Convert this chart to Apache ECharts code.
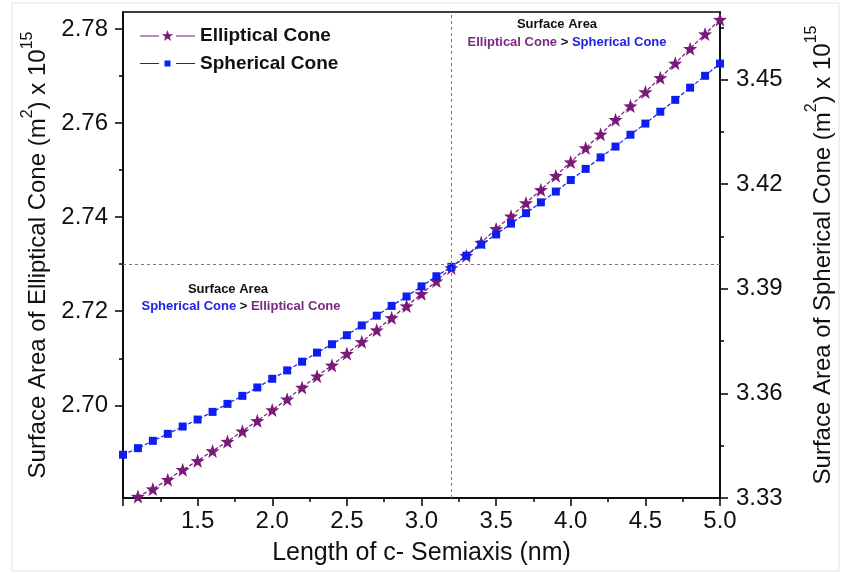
<!DOCTYPE html>
<html>
<head>
<meta charset="utf-8">
<script src="https://cdn.jsdelivr.net/npm/echarts@6/dist/echarts.min.js"></script>
<style>
html,body{margin:0;padding:0;background:#fff;}
#chart{width:843px;height:573px;}
</style>
</head>
<body>
<div id="chart"></div>
<script>
// ---- data ----
const xValues = [1.0,1.1,1.2,1.3,1.4,1.5,1.6,1.7,1.8,1.9,2.0,2.1,2.2,2.3,2.4,2.5,2.6,2.7,2.8,2.9,3.0,3.1,3.2,3.3,3.4,3.5,3.6,3.7,3.8,3.9,4.0,4.1,4.2,4.3,4.4,4.5,4.6,4.7,4.8,4.9,5.0];
const ellipticalCone = [2.6784,2.6806,2.6822,2.6842,2.6863,2.6882,2.6903,2.6923,2.6945,2.6967,2.6990,2.7013,2.7038,2.7062,2.7085,2.7110,2.7135,2.7160,2.7186,2.7211,2.7237,2.7264,2.7292,2.7318,2.7346,2.7375,2.7402,2.7430,2.7458,2.7488,2.7517,2.7547,2.7576,2.7607,2.7636,2.7666,2.7696,2.7727,2.7758,2.7789,2.7820];
const sphericalCone = [3.3424,3.3443,3.3464,3.3484,3.3505,3.3525,3.3547,3.3570,3.3593,3.3617,3.3642,3.3666,3.3691,3.3717,3.3741,3.3767,3.3795,3.3823,3.3851,3.3878,3.3907,3.3936,3.3963,3.3995,3.4027,3.4056,3.4087,3.4117,3.4148,3.4179,3.4212,3.4244,3.4277,3.4308,3.4342,3.4374,3.4408,3.4442,3.4477,3.4511,3.4546];
const leftTicks = [2.70,2.72,2.74,2.76,2.78];
const leftMinorTicks = [2.69,2.71,2.73,2.75,2.77];
const rightTicks = [3.33,3.36,3.39,3.42,3.45];
const rightMinorTicks = [3.345,3.375,3.405,3.435,3.465];
const crossX = 3.2;
const crossYLeft = 2.7295;

// ---- styles ----
const FONT = 'Liberation Sans, Arial, sans-serif';
const PURPLE = '#7a1a78';
const BLUE = '#0f1ef0';
const starPath = 'path://M27.5,0.5L28.911,4.558L33.206,4.646L29.783,7.242L31.027,11.354L27.5,8.9L23.973,11.354L25.217,7.242L21.794,4.646L26.089,4.558Z';
const ellIcon = 'path://M0,6L19,6L19,7L0,7ZM36,6L55,6L55,7L36,7ZM27.5,0.5L28.911,4.558L33.206,4.646L29.783,7.242L31.027,11.354L27.5,8.9L23.973,11.354L25.217,7.242L21.794,4.646L26.089,4.558Z';
const sphIcon = 'path://M0,6L19,6L19,7L0,7ZM36,6L55,6L55,7L36,7ZM24.5,3.5L30.5,3.5L30.5,9.5L24.5,9.5Z';

const pairs = (ys) => xValues.map((x, i) => [x, ys[i]]);

const chart = echarts.init(document.getElementById('chart'), null, {renderer: 'canvas'});

const nameRich = {
  t: {fontSize: 24, fontFamily: FONT, color: '#111', lineHeight: 31, verticalAlign: 'bottom'},
  s: {fontSize: 16, fontFamily: FONT, color: '#111', lineHeight: 16, verticalAlign: 'top'}
};

const leftMin = 2.6803, leftMax = 2.7836;
const rightMin = 3.33, rightMax = 3.4694;

const option = {
  animation: false,
  backgroundColor: '#fff',
  grid: {left: 123, right: 121, top: 12, bottom: 75, show: true, borderColor: '#000', borderWidth: 1.5, backgroundColor: 'transparent'},
  legend: {
    orient: 'vertical', left: 135, top: 21,
    itemWidth: 55, itemHeight: 11, itemGap: 9,
    textStyle: {fontSize: 19, fontWeight: 'bold', fontFamily: FONT, color: '#111', lineHeight: 19},
    data: [{name: 'Elliptical Cone', icon: ellIcon}, {name: 'Spherical Cone', icon: sphIcon}]
  },
  xAxis: {
    type: 'value', min: 1, max: 5, interval: 0.5,
    name: 'Length of c- Semiaxis (nm)', nameLocation: 'middle', nameGap: 43,
    nameTextStyle: {fontSize: 25, fontFamily: FONT, color: '#111'},
    axisLine: {lineStyle: {color: '#000', width: 1.5}},
    axisTick: {length: 8, lineStyle: {color: '#000', width: 1.5}},
    minorTick: {show: true, splitNumber: 2, length: 4, lineStyle: {color: '#000', width: 1.5}},
    axisLabel: {fontSize: 24, fontFamily: FONT, color: '#111', margin: 11, showMinLabel: false, formatter: v => v.toFixed(1)},
    splitLine: {show: false}
  },
  yAxis: [
    {
      type: 'value', position: 'left', min: leftMin, max: leftMax,
      name: '{t|Surface Area of Elliptical Cone (m}{s|2}{t|) x 10}{s|15}',
      nameLocation: 'middle', nameRotate: 90, nameGap: 70,
      nameTextStyle: {rich: nameRich},
      axisLine: {show: true, lineStyle: {color: '#000', width: 1.5}},
      axisTick: {show: true, length: 8, customValues: leftTicks, lineStyle: {color: '#000', width: 1.5}},
      axisLabel: {fontSize: 24, fontFamily: FONT, color: '#111', margin: 15, customValues: leftTicks, formatter: v => v.toFixed(2)},
      splitLine: {show: false}
    },
    {
      type: 'value', position: 'right', min: rightMin, max: rightMax,
      name: '{t|Surface Area of Spherical Cone (m}{s|2}{t|) x 10}{s|15}',
      nameLocation: 'middle', nameRotate: 90, nameGap: 84,
      nameTextStyle: {rich: nameRich},
      axisLine: {show: true, lineStyle: {color: '#000', width: 1.5}},
      axisTick: {show: true, length: 8, customValues: rightTicks, lineStyle: {color: '#000', width: 1.5}},
      axisLabel: {fontSize: 24, fontFamily: FONT, color: '#111', margin: 16, customValues: rightTicks, formatter: v => v.toFixed(2)},
      splitLine: {show: false}
    },
    {
      type: 'value', position: 'left', min: leftMin, max: leftMax,
      axisLine: {show: false},
      axisTick: {show: true, length: 4, customValues: leftMinorTicks, lineStyle: {color: '#000', width: 1.5}},
      axisLabel: {show: false},
      splitLine: {show: false}
    },
    {
      type: 'value', position: 'right', min: rightMin, max: rightMax,
      axisLine: {show: false},
      axisTick: {show: true, length: 4, customValues: rightMinorTicks, lineStyle: {color: '#000', width: 1.5}},
      axisLabel: {show: false},
      splitLine: {show: false}
    }
  ],
  series: [
    {
      name: 'Elliptical Cone', type: 'line', yAxisIndex: 0,
      data: pairs(ellipticalCone),
      symbol: starPath, symbolSize: 14, showAllSymbol: true, clip: true,
      itemStyle: {color: PURPLE},
      lineStyle: {color: PURPLE, width: 1.2, type: [4, 2]},
      z: 3,
      markLine: {
        silent: true, symbol: ['none', 'none'], label: {show: false},
        lineStyle: {color: '#777', width: 1, type: [3, 3]},
        data: [{xAxis: crossX}, {yAxis: crossYLeft}]
      }
    },
    {
      name: 'Spherical Cone', type: 'line', yAxisIndex: 1,
      data: pairs(sphericalCone),
      symbol: 'rect', symbolSize: 8, showAllSymbol: true, clip: true,
      itemStyle: {color: BLUE},
      lineStyle: {color: BLUE, width: 1.2, type: [4, 2]},
      z: 4
    }
  ],
  graphic: [
    {type: 'rect', z: -10, shape: {x: 12, y: 3, width: 827, height: 568}, style: {fill: 'none', stroke: '#e4e4e4', lineWidth: 1}},
    {type: 'text', x: 557, y: 24, style: {text: 'Surface Area', font: 'bold 13px ' + FONT, fill: '#111', align: 'center', verticalAlign: 'middle'}},
    {type: 'text', x: 567, y: 42, style: {
      text: '{p|Elliptical Cone}{k| > }{b|Spherical Cone}', align: 'center', verticalAlign: 'middle',
      rich: {p: {font: 'bold 13px ' + FONT, fill: '#7b2a82'}, k: {font: 'bold 13px ' + FONT, fill: '#111'}, b: {font: 'bold 13px ' + FONT, fill: '#1d22e6'}}
    }},
    {type: 'text', x: 228, y: 289, style: {text: 'Surface Area', font: 'bold 13px ' + FONT, fill: '#111', align: 'center', verticalAlign: 'middle'}},
    {type: 'text', x: 241, y: 306, style: {
      text: '{b|Spherical Cone}{k| > }{p|Elliptical Cone}', align: 'center', verticalAlign: 'middle',
      rich: {p: {font: 'bold 13px ' + FONT, fill: '#7b2a82'}, k: {font: 'bold 13px ' + FONT, fill: '#111'}, b: {font: 'bold 13px ' + FONT, fill: '#1d22e6'}}
    }}
  ]
};
chart.setOption(option);
</script>
</body>
</html>
